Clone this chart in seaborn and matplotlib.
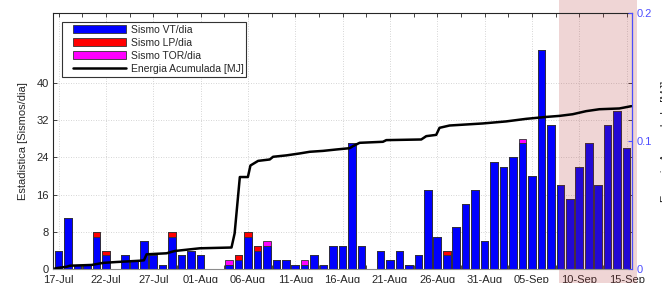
import numpy as np
import matplotlib
matplotlib.use('Agg')
import matplotlib.pyplot as plt
import matplotlib.patches as mpatches
from matplotlib.lines import Line2D
from matplotlib.legend_handler import HandlerPatch, HandlerLine2D
from matplotlib.ticker import MultipleLocator
import seaborn as sns

# daily counts, 17-Jul .. 15-Sep (61 days)
days = np.arange(61)
sismo_vt = [4, 11, 1, 1, 7, 3, 0, 3, 2, 6, 3, 1, 7, 3, 4, 3, 0, 0, 1, 2,
            7, 4, 5, 2, 2, 1, 1, 3, 1, 5, 5, 27, 5, 0, 4, 2, 4, 1, 3, 17,
            7, 3, 9, 14, 17, 6, 23, 22, 24, 27, 20, 47, 31, 18, 15, 22, 27, 18, 31, 34,
            26]
sismo_lp = [0, 0, 0, 0, 1, 1, 0, 0, 0, 0, 0, 0, 1, 0, 0, 0, 0, 0, 0, 1,
            1, 1, 0, 0, 0, 0, 0, 0, 0, 0, 0, 0, 0, 0, 0, 0, 0, 0, 0, 0,
            0, 1, 0, 0, 0, 0, 0, 0, 0, 0, 0, 0, 0, 0, 0, 0, 0, 0, 0, 0,
            0]
sismo_tor = [0, 0, 0, 0, 0, 0, 0, 0, 0, 0, 0, 0, 0, 0, 0, 0, 0, 0, 1, 0,
             0, 0, 1, 0, 0, 0, 1, 0, 0, 0, 0, 0, 0, 0, 0, 0, 0, 0, 0, 0,
             0, 0, 0, 0, 0, 0, 0, 0, 0, 1, 0, 0, 0, 0, 0, 0, 0, 0, 0, 0,
             0]

# cumulative energy [MJ], time in days after 17-Jul
energy_day = [-0.35, 0.86, 1.21, 3.5, 4.69, 6.14, 8.6, 9.02, 9.3, 11.41, 12.29, 14.93,
              18.27, 18.6, 19.15, 20.0, 20.27, 21.08, 22.31, 22.66, 24.07, 25.47, 26.53,
              27.93, 29.35, 30.75, 31.1, 31.8, 34.26, 34.62, 38.31, 38.84, 39.89, 40.24,
              41.3, 44.81, 47.28, 49.39, 51.5, 52.9, 54.3, 55.72, 57.12, 59.23, 60.5]
energy_mj = [0.0008, 0.002, 0.0028, 0.0034, 0.005, 0.0057, 0.0067, 0.007, 0.0117, 0.0125,
             0.0143, 0.0164, 0.017, 0.028, 0.072, 0.072, 0.081, 0.0846, 0.0857, 0.0878,
             0.0889, 0.0904, 0.0917, 0.0924, 0.0935, 0.0945, 0.0961, 0.0987, 0.0995, 0.1008,
             0.1013, 0.1039, 0.1049, 0.1104, 0.1122, 0.1138, 0.1154, 0.1174, 0.1189, 0.1197,
             0.121, 0.1234, 0.1249, 0.1255, 0.1273]

tick_labels = ['17-Jul', '22-Jul', '27-Jul', '01-Aug', '06-Aug', '11-Aug', '16-Aug',
               '21-Aug', '26-Aug', '31-Aug', '05-Sep', '10-Sep', '15-Sep']
shade_start = 52.9  # shaded period (days after 17-Jul)
shade_end = 61.05

sns.set_style('white')
plt.rcParams['font.family'] = ['Liberation Sans', 'DejaVu Sans']

vt = np.array(sismo_vt)
vt_lp = vt + np.array(sismo_lp)
total = vt_lp + np.array(sismo_tor)

fig = plt.figure(figsize=(6.62, 2.83), dpi=100)
ax = fig.add_axes([0.0801, 0.0484, 0.8746, 0.9057])
ax.set_axisbelow(True)

bar_kw = dict(ax=ax, width=0.8, saturation=1, errorbar=None,
              edgecolor='#333333', linewidth=0.6)
# stacked bars drawn back to front
sns.barplot(x=days, y=total, color='#ff00ff', **bar_kw)
sns.barplot(x=days, y=vt_lp, color='#ff0000', **bar_kw)
sns.barplot(x=days, y=vt, color='#0000ff', **bar_kw)

ax.axvspan(shade_start, shade_end, ymin=-0.06, ymax=1.06, color='#b03030',
           alpha=0.2, lw=0, clip_on=False, zorder=1.5)

ax.set_xlim(-0.58, 60.57)
ax.set_ylim(0, 55)
ax.set_xticks(np.arange(0, 61, 5))
ax.set_xticklabels(tick_labels)
ax.xaxis.set_minor_locator(MultipleLocator(2.5))
ax.set_yticks(np.arange(0, 41, 8))
ax.set_xlabel('')
ax.set_ylabel('Estadistica [Sismos/dia]', fontsize=8, color='#262626', labelpad=6)
ax.grid(True, which='major', color='#c8c8c8', linestyle=(0, (1, 2)), linewidth=0.6)
for s in ['left', 'top']:
    ax.spines[s].set_color('#262626')
    ax.spines[s].set_linewidth(0.8)
ax.spines['bottom'].set_color('#8c8c8c')
ax.spines['bottom'].set_linewidth(0.8)

ax2 = ax.twinx()
sns.lineplot(x=energy_day, y=energy_mj, ax=ax2, color='black', linewidth=1.8,
             estimator=None)
ax2.set_ylim(0, 0.2)
ax2.set_yticks([0, 0.1, 0.2])
ax2.set_yticklabels(['0', '0.1', '0.2'])
blue = '#4d4dff'
ax2.tick_params(axis='y', direction='in', length=3, colors=blue, labelsize=8, pad=3)
ax2.spines['right'].set_color(blue)
ax2.spines['right'].set_linewidth(0.8)
for s in ['left', 'top', 'bottom']:
    ax2.spines[s].set_visible(False)
ax2.set_ylabel('Energia Acumulada [MJ]', fontsize=8, color='#262626', labelpad=7)
ax2.set_xlim(-0.58, 60.57)

ax.tick_params(axis='x', which='both', direction='in', top=True, bottom=True,
               length=3, width=0.6, labelsize=8, labelcolor='#262626', pad=4)
ax.tick_params(axis='y', which='both', direction='in', left=True, right=True,
               length=3, width=0.6, labelsize=8, labelcolor='#262626', pad=3)

handles = [mpatches.Patch(facecolor='#0000ff', edgecolor='#333333', lw=0.6),
           mpatches.Patch(facecolor='#ff0000', edgecolor='#333333', lw=0.6),
           mpatches.Patch(facecolor='#ff00ff', edgecolor='#333333', lw=0.6),
           Line2D([], [], color='black', lw=1.8)]
labels = ['Sismo VT/dia', 'Sismo LP/dia', 'Sismo TOR/dia', 'Energia Acumulada [MJ]']
leg = ax2.legend(handles, labels, loc='upper left', bbox_to_anchor=(0.0155, 0.965),
                 borderaxespad=0, fontsize=7.5, frameon=True, fancybox=False,
                 framealpha=1, edgecolor='#333333', borderpad=0.25,
                 handlelength=5.9, handleheight=0.8, handletextpad=0.45,
                 labelspacing=0.3,
                 handler_map={mpatches.Patch: HandlerPatch(xpad=0.8),
                              Line2D: HandlerLine2D(xpad=0.8)})
leg.get_frame().set_linewidth(0.8)
for t in leg.get_texts():
    t.set_color('#262626')

fig.savefig('out.png', dpi=100)
